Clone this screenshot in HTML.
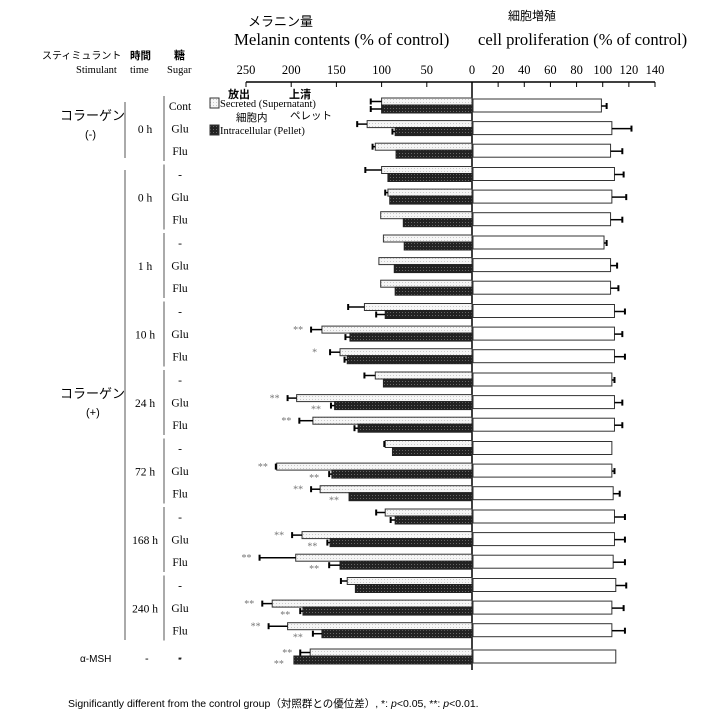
<!DOCTYPE html>
<html><head><meta charset="utf-8">
<style>
body{margin:0;background:#fff;}
svg{display:block;font-family:"Liberation Serif","Noto Serif CJK SC",serif;}
.jp{font-family:"Liberation Sans","Noto Sans CJK JP",sans-serif;}
</style></head>
<body>
<svg id="chart" width="728" height="726" viewBox="0 0 728 726">
<defs>
<pattern id="dots" width="3" height="3" patternUnits="userSpaceOnUse"><rect width="3" height="3" fill="#f6f6f6"/><rect width="1" height="1" fill="#c8c8c8"/></pattern>
<pattern id="dark" width="3" height="3" patternUnits="userSpaceOnUse"><rect width="3" height="3" fill="#222"/><rect width="1" height="1" fill="#666"/></pattern>
</defs>
<g>
<text class="jp" x="248" y="26" font-size="13">メラニン量</text>
<text x="234" y="45" font-size="16.8">Melanin contents (% of control)</text>
<text class="jp" x="508" y="20" font-size="12">細胞増殖</text>
<text x="478" y="45" font-size="16.6">cell proliferation  (% of control)</text>
<text class="jp" x="42" y="59" font-size="10">スティミュラント</text>
<text x="76" y="73" font-size="10.5">Stimulant</text>
<text class="jp" x="130" y="59" font-size="10.5" font-weight="bold">時間</text>
<text x="130" y="73" font-size="10.5">time</text>
<text class="jp" x="174" y="59" font-size="11" font-weight="bold">糖</text>
<text x="167" y="73" font-size="10.5">Sugar</text>
</g>
<g>
<rect x="210" y="98" width="9" height="10" fill="url(#dots)" stroke="#333"/>
<rect x="210" y="125" width="9" height="10" fill="url(#dark)" stroke="#333"/>
<text class="jp" x="228" y="98" font-size="11" font-weight="bold">放出</text>
<text class="jp" x="289" y="98" font-size="11" font-weight="bold">上清</text>
<text x="220" y="107" font-size="10.5">Secreted (Supernatant)</text>
<text class="jp" x="236" y="121" font-size="10.5">細胞内</text>
<text class="jp" x="290" y="119" font-size="10.5">ペレット</text>
<text x="220" y="134" font-size="10.5">Intracellular (Pellet)</text>
</g>
<g id="axes"></g>
<g id="labels"></g>
<g id="bars"></g>
<text x="68" y="707" font-size="10.5" class="jp">Significantly different from the control group（対照群との優位差）, *: <tspan font-style="italic">p</tspan>&lt;0.05, **: <tspan font-style="italic">p</tspan>&lt;0.01.</text>
</svg>
<script>
const melTicks=[250,200,150,100,50,0];
const proTicks=[20,40,60,80,100,120,140];
const sugars=["Cont","Glu","Flu","-","Glu","Flu","-","Glu","Flu","-","Glu","Flu","-","Glu","Flu","-","Glu","Flu","-","Glu","Flu","-","Glu","Flu","-"];
const times=["0 h","0 h","1 h","10 h","24 h","72 h","168 h","240 h"];
const secreted=[100,116,107,100,93,101,98,103,101,119,166,146,107,194,176,96,216,168,96,188,195,138,221,204,179];
const secretedErr=[12,11,3,18,3,0,0,0,0,18,12,11,12,10,15,1,1,10,10,11,40,7,11,21,11];
const pellet=[100,85,84,93,91,76,75,86,85,96,135,138,98,152,126,88,155,136,85,157,146,129,187,166,197];
const pelletErr=[12,3,0,0,0,0,0,0,0,10,5,3,0,4,4,0,3,0,5,3,12,0,3,10,0];
const prolif=[99,107,106,109,107,106,101,106,106,109,109,109,107,109,109,107,107,108,109,109,108,110,107,107,110];
const prolifErr=[4,15,9,7,11,9,2,5,6,8,6,8,2,6,6,0,2,5,8,8,9,8,9,10,0];
const secStars=["","","","","","","","","","","**","*","","**","**","","**","**","","**","**","","**","**","**"];
const pelStars=["","","","","","","","","","","","","","**","","","**","**","","**","**","","**","**","**"];
const X0=472,mk=(472-246)/250,pk=(655-472)/140;
const xm=v=>X0-v*mk, xp=v=>X0+v*pk;
const rowY=i=>i<24?106+Math.floor(i/3)*68.5+(i%3)*22.6:657;
const NS="http://www.w3.org/2000/svg";
function el(t,a,p){const e=document.createElementNS(NS,t);for(const k in a)e.setAttribute(k,a[k]);p.appendChild(e);return e;}
const ax=document.getElementById('axes'),lb=document.getElementById('labels'),bg=document.getElementById('bars');
let e=el('line',{x1:246,y1:82,x2:655,y2:82,stroke:'#000','stroke-width':1.5},ax);

e=el('line',{x1:X0,y1:82,x2:X0,y2:670,stroke:'#000','stroke-width':1.5},ax);

melTicks.forEach(v=>{const x=xm(v);
 el('line',{x1:x,y1:82,x2:x,y2:87,stroke:'#000'},ax);
 const t=el('text',{x:x,y:74,'font-size':12.5,'text-anchor':'middle'},ax);t.textContent=v;
 });
proTicks.forEach(v=>{const x=xp(v);
 el('line',{x1:x,y1:82,x2:x,y2:87,stroke:'#000'},ax);
 const t=el('text',{x:x,y:74,'font-size':12.5,'text-anchor':'middle'},ax);t.textContent=v;
 });
for(let i=0;i<25;i++){const y=rowY(i);el('line',{x1:X0,y1:y,x2:X0+4,y2:y,stroke:'#000'},ax);}
sugars.forEach((s,i)=>{const t=el('text',{x:180,y:rowY(i)+4,'font-size':11.5,'text-anchor':'middle'},lb);t.textContent=s;
 });
times.forEach((s,g)=>{const y=106+g*68.5;
 const t=el('text',{x:145,y:y+27,'font-size':11.5,'text-anchor':'middle'},lb);t.textContent=s;
 
 el('line',{x1:164,y1:y-10,x2:164,y2:y+55,stroke:'#555'},lb);});
el('line',{x1:125,y1:102,x2:125,y2:158,stroke:'#555'},lb);
el('line',{x1:125,y1:170,x2:125,y2:640,stroke:'#555'},lb);
[["コラーゲン",60,120,13],["(-)",85,138,11],["コラーゲン",60,398,13],["(+)",86,416,11],["α-MSH",80,662,10],["-",145,662,11],["-",178,662,11]].forEach(a=>{
 const t=el('text',{x:a[1],y:a[2],'font-size':a[3],'class':'jp'},lb);t.textContent=a[0];
 });
function err(x1,x2,y){el('line',{x1:x1,y1:y,x2:x2,y2:y,stroke:'#000','stroke-width':1.5},bg);el('line',{x1:x2,y1:y-3,x2:x2,y2:y+3,stroke:'#000','stroke-width':2},bg);}
for(let i=0;i<25;i++){const y=rowY(i);
 const s=el('rect',{x:xm(secreted[i]),y:y-8,width:X0-xm(secreted[i]),height:7,fill:'url(#dots)',stroke:'#333','stroke-width':1},bg);
 
 if(secretedErr[i])err(xm(secreted[i]),xm(secreted[i]+secretedErr[i]),y-4.5);
 const p=el('rect',{x:xm(pellet[i]),y:y-1,width:X0-xm(pellet[i]),height:8,fill:'url(#dark)',stroke:'#222','stroke-width':1},bg);
 
 if(pelletErr[i])err(xm(pellet[i]),xm(pellet[i]+pelletErr[i]),y+3);
 const r=el('rect',{x:X0+1,y:y-7,width:xp(prolif[i])-X0-1,height:13,fill:'#fff',stroke:'#333','stroke-width':1},bg);
 
 if(prolifErr[i])err(xp(prolif[i]),xp(prolif[i]+prolifErr[i]),y);
 if(secStars[i]){const t=el('text',{x:xm(secreted[i]+secretedErr[i])-18,y:y-1,'font-size':10,fill:'#777'},bg);t.textContent=secStars[i];
  }
 if(pelStars[i]){const t=el('text',{x:xm(pellet[i]+pelletErr[i])-20,y:y+10,'font-size':10,fill:'#777'},bg);t.textContent=pelStars[i];
  }
}
</script>
</body></html>
